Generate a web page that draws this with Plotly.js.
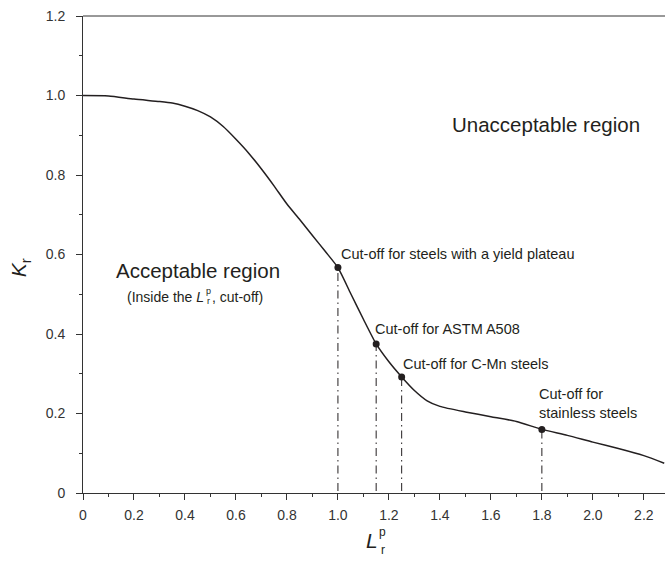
<!DOCTYPE html>
<html>
<head>
<meta charset="utf-8">
<script src="https://cdn.plot.ly/plotly-3.0.1.min.js"></script>
<style>html,body{margin:0;padding:0;background:#fff;}#chart{width:665px;height:561px;}</style>
</head>
<body>
<div id="chart"></div>
<script>
// Failure assessment curve
var curveX = [0, 0.1, 0.2, 0.3, 0.35, 0.4, 0.45, 0.5, 0.55, 0.6, 0.65, 0.7, 0.75, 0.8, 0.85, 0.9, 0.95, 1.0, 1.05, 1.1, 1.15, 1.2, 1.25, 1.3, 1.35, 1.4, 1.5, 1.6, 1.7, 1.8, 1.9, 2.0, 2.1, 2.2, 2.28];
var curveY = [1.0, 0.999, 0.991, 0.985, 0.981, 0.973, 0.962, 0.946, 0.922, 0.89, 0.855, 0.815, 0.772, 0.727, 0.688, 0.648, 0.608, 0.567, 0.502, 0.437, 0.375, 0.330, 0.292, 0.258, 0.232, 0.218, 0.204, 0.192, 0.180, 0.160, 0.145, 0.128, 0.112, 0.094, 0.075];

// Cut-off points
var cutX = [1.0, 1.15, 1.25, 1.8];
var cutY = [0.567, 0.375, 0.292, 0.160];
var cutLabels = ["Cut-off for steels with a yield plateau", "Cut-off for ASTM A508", "Cut-off for C-Mn steels", "Cut-off for<br>stainless steels"];

var xTicks = [0, 0.2, 0.4, 0.6, 0.8, 1.0, 1.2, 1.4, 1.6, 1.8, 2.0, 2.2];
var xTickText = ["0", "0.2", "0.4", "0.6", "0.8", "1.0", "1.2", "1.4", "1.6", "1.8", "2.0", "2.2"];
var yTicks = [0, 0.2, 0.4, 0.6, 0.8, 1.0, 1.2];
var yTickText = ["0", "0.2", "0.4", "0.6", "0.8", "1.0", "1.2"];

var FONT = "Arial, 'Liberation Sans', sans-serif";
var INK = "#231f20";

var traces = [];
traces.push({x: curveX, y: curveY, mode: "lines", line: {color: INK, width: 1.5, shape: "spline", smoothing: 0.6}, hoverinfo: "skip"});
for (var i = 0; i < cutX.length; i++) {
  traces.push({x: [cutX[i], cutX[i]], y: [0.005, cutY[i]], mode: "lines", line: {color: INK, width: 1, dash: "8px,4px,1.5px,4px"}, hoverinfo: "skip"});
}
traces.push({x: cutX, y: cutY, mode: "markers", marker: {color: INK, size: 7}, hoverinfo: "skip"});

var labelPos = [[1.005, 0.601], [1.138, 0.413], [1.248, 0.3245], [1.782, 0.224]];
var annotations = [];
for (var j = 0; j < cutLabels.length; j++) {
  annotations.push({x: labelPos[j][0], y: labelPos[j][1], xref: "x", yref: "y", text: cutLabels[j], showarrow: false, xanchor: "left", yanchor: "middle", align: "left", font: {family: FONT, size: 14.5, color: INK}});
}
annotations.push({x: 1.818, y: 0.926, text: "Unacceptable region", showarrow: false, xanchor: "center", yanchor: "middle", font: {family: FONT, size: 20.5, color: INK}});
annotations.push({x: 0.453, y: 0.561, text: "Acceptable region", showarrow: false, xanchor: "center", yanchor: "middle", font: {family: FONT, size: 20.5, color: INK}});
// (Inside the L_r^p, cut-off)
annotations.push({x: 0.4825, y: 0.493, text: "(Inside the <i>L</i>", showarrow: false, xanchor: "right", yanchor: "middle", font: {family: FONT, size: 14, color: INK}});
annotations.push({x: 0.4905, y: 0.509, text: "p", showarrow: false, xanchor: "center", yanchor: "middle", font: {family: FONT, size: 9, color: INK}});
annotations.push({x: 0.4905, y: 0.483, text: "r", showarrow: false, xanchor: "center", yanchor: "middle", font: {family: FONT, size: 9, color: INK}});
annotations.push({x: 0.497, y: 0.493, text: ", cut-off)", showarrow: false, xanchor: "left", yanchor: "middle", font: {family: FONT, size: 14, color: INK}});
// Axis titles
annotations.push({x: -0.108, y: 0.566, xref: "paper", yref: "y", text: "<i>K</i><sub>r</sub>", textangle: -90, showarrow: false, xanchor: "center", yanchor: "middle", font: {family: FONT, size: 21, color: INK}});
annotations.push({x: 1.165, y: -0.1, xref: "x", yref: "paper", text: "<i>L</i>", showarrow: false, xanchor: "right", yanchor: "middle", font: {family: FONT, size: 21, color: INK}});
annotations.push({x: 1.175, y: -0.081, xref: "x", yref: "paper", text: "p", showarrow: false, xanchor: "center", yanchor: "middle", font: {family: FONT, size: 12, color: INK}});
annotations.push({x: 1.175, y: -0.119, xref: "x", yref: "paper", text: "r", showarrow: false, xanchor: "center", yanchor: "middle", font: {family: FONT, size: 12, color: INK}});

var layout = {
  width: 665, height: 561,
  margin: {l: 83, r: 0, t: 16, b: 68},
  paper_bgcolor: "#fff", plot_bgcolor: "#fff",
  showlegend: false,
  font: {family: FONT, size: 14, color: "#333"},
  xaxis: {range: [0, 2.283], tickvals: xTicks, ticktext: xTickText, showgrid: false, zeroline: false, showline: true, linecolor: "#333", linewidth: 1, ticks: "outside", ticklen: 6, tickcolor: "#333", ticklabelstandoff: 3, tickfont: {family: FONT, size: 14, color: "#333"}, minor: {ticks: "outside", ticklen: 3, dtick: 0.1, tickcolor: "#333", showgrid: false}},
  yaxis: {range: [0, 1.2], tickvals: yTicks, ticktext: yTickText, showgrid: false, zeroline: false, showline: true, linecolor: "#333", linewidth: 1, ticks: "outside", ticklen: 6, tickcolor: "#333", ticklabelstandoff: 8, tickfont: {family: FONT, size: 14, color: "#333"}, minor: {ticks: "outside", ticklen: 3, dtick: 0.1, tickcolor: "#333", showgrid: false}},
  shapes: [{type: "line", xref: "paper", yref: "paper", x0: 0, x1: 1, y0: 1, y1: 1, line: {color: "#333", width: 1}}],
  annotations: annotations
};

Plotly.newPlot("chart", traces, layout, {displayModeBar: false, staticPlot: true});
</script>
</body>
</html>
